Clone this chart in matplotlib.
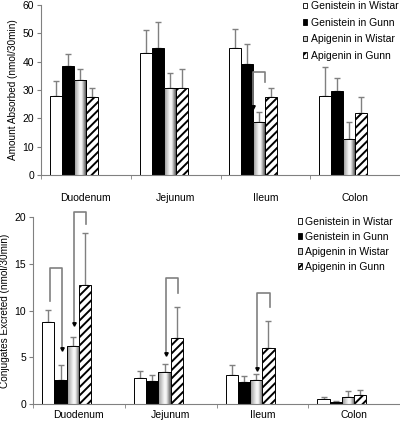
import matplotlib
matplotlib.use("Agg")
import matplotlib.pyplot as plt
import numpy as np
from matplotlib.patches import Patch

plt.rcParams['font.family'] = ['Liberation Sans', 'DejaVu Sans']
plt.rcParams['hatch.linewidth'] = 1.4

categories = ["Duodenum", "Jejunum", "Ileum", "Colon"]
series = ["Genistein in Wistar", "Genistein in Gunn", "Apigenin in Wistar", "Apigenin in Gunn"]

absorbed_gen_wistar = [27.9, 43.2, 44.9, 27.9]
absorbed_gen_gunn = [38.5, 44.9, 39.1, 29.5]
absorbed_api_wistar = [33.4, 30.6, 18.6, 12.6]
absorbed_api_gunn = [27.4, 30.6, 27.6, 21.8]
absorbed_err_gen_wistar = [5.3, 8.1, 6.7, 10.3]
absorbed_err_gen_gunn = [4.1, 9.0, 7.3, 4.6]
absorbed_err_api_wistar = [4.0, 5.4, 3.8, 6.0]
absorbed_err_api_gunn = [3.4, 6.7, 3.2, 5.8]

excreted_gen_wistar = [8.8, 2.78, 3.06, 0.52]
excreted_gen_gunn = [2.6, 2.42, 2.35, 0.25]
excreted_api_wistar = [6.16, 3.45, 2.6, 0.75]
excreted_api_gunn = [12.76, 7.05, 6.0, 1.0]
excreted_err_gen_wistar = [1.3, 0.72, 1.14, 0.22]
excreted_err_gen_gunn = [1.6, 0.64, 0.6, 0.1]
excreted_err_api_wistar = [1.04, 0.85, 0.64, 0.62]
excreted_err_api_gunn = [5.5, 3.35, 2.85, 0.45]

# brackets: (category index, left bar, right bar, top y, left end y, right end y, arrow on 'left'/'right')
absorbed_brackets = [(2, 2, 3, 36.5, 24.1, 32.9, 'left')]
excreted_brackets = [
    (0, 0, 1, 14.55, 11.0, 5.9, 'right'),
    (0, 2, 3, 20.5, 8.6, 19.3, 'left'),
    (1, 2, 3, 13.5, 5.3, 11.9, 'left'),
    (2, 2, 3, 11.9, 3.75, 10.4, 'left'),
]

BW = 0.1333
GRAY = '#808080'

grad = np.interp(np.linspace(0, 1, 60), [0, 0.15, 0.5, 0.65, 0.85, 1.0],
                 [0.55, 0.7, 0.97, 0.95, 0.6, 0.35])
grad_img = np.tile(grad, (2, 1))


def bar_x(i, j):
    return i - 0.4 + BW * (j + 0.5)


def draw(ax, vals, errs, ylim, step, ylabel, brackets, leg_bbox, leg_spacing, bracket_dx):
    x = np.arange(len(categories))
    styles = [dict(facecolor='white', edgecolor='black'),
              dict(facecolor='black', edgecolor='black'),
              dict(facecolor='#d0d0d0', edgecolor='black'),
              dict(facecolor='white', edgecolor='black', hatch='////')]
    handles = []
    for j, (v, e) in enumerate(zip(vals, errs)):
        xs = [bar_x(i, j) for i in x]
        bars = ax.bar(xs, v, width=BW, linewidth=0.7, zorder=2, **styles[j])
        if j == 2:
            for b in bars:
                x0, y0 = b.get_x(), b.get_y()
                im = ax.imshow(grad_img, cmap='gray', vmin=0, vmax=1, aspect='auto',
                               extent=[x0, x0 + b.get_width(), y0, y0 + b.get_height()],
                               zorder=2.1, interpolation='bilinear')
                im.set_clip_path(b)
                ax.bar(b.get_x() + b.get_width() / 2, b.get_height(), width=BW,
                       fill=False, edgecolor='black', linewidth=0.7, zorder=2.2)
        ax.errorbar(xs, v, yerr=[np.zeros(len(e)), e], fmt='none', ecolor=GRAY,
                    elinewidth=1.0, capsize=2.2, capthick=1.0, zorder=1.5)
        handles.append(Patch(**styles[j], linewidth=0.6, label=series[j]))
    for (i, jl, jr, top, yl, yr, arr) in brackets:
        xl = bar_x(i, jl) + bracket_dx
        xr = bar_x(i, jr) + bracket_dx
        ax.plot([xl, xl, xr, xr], [yl, top, top, yr], color=GRAY, lw=1.2,
                clip_on=False, zorder=3)
        ax_x = xl if arr == 'left' else xr
        ay = yl if arr == 'left' else yr
        ax.plot([ax_x], [ay], marker='v', color='black', markersize=2.5,
                clip_on=False, zorder=3)
    ax.set_xlim(-0.5, len(categories) - 0.5)
    ax.set_ylim(*ylim)
    ax.set_yticks(np.arange(ylim[0], ylim[1] + 0.01, step))
    ax.set_xticks(x)
    ax.set_xticklabels(categories, fontsize=7.5)
    ax.set_xticks(np.arange(-0.5, len(categories)), minor=True)
    ax.tick_params(axis='x', which='major', length=0)
    ax.tick_params(axis='x', which='minor', length=3, color=GRAY)
    ax.tick_params(axis='y', length=3, color=GRAY, labelsize=7.5, pad=2)
    for s in ['top', 'right']:
        ax.spines[s].set_visible(False)
    for s in ['left', 'bottom']:
        ax.spines[s].set_color(GRAY)
        ax.spines[s].set_linewidth(0.8)
    ax.set_ylabel(ylabel, fontsize=7.2, labelpad=3)
    ax.legend(handles=handles, loc='upper left', bbox_to_anchor=leg_bbox,
              bbox_transform=ax.figure.transFigure, frameon=False,
              fontsize=7.5, handlelength=0.45, handleheight=0.45,
              handletextpad=0.3, labelspacing=leg_spacing, borderpad=0,
              borderaxespad=0)
    return ax


fig = plt.figure(figsize=(4.0, 4.23), dpi=100)
ax1 = fig.add_axes([0.1025, 0.5863, 0.8975, 0.4017])
ax2 = fig.add_axes([0.0825, 0.0449, 0.9175, 0.4421])

draw(ax1,
     [absorbed_gen_wistar, absorbed_gen_gunn, absorbed_api_wistar, absorbed_api_gunn],
     [absorbed_err_gen_wistar, absorbed_err_gen_gunn, absorbed_err_api_wistar, absorbed_err_api_gunn],
     (0, 60), 10, "Amount Absorbed (nmol/30min)", absorbed_brackets,
     (0.757, 0.997), 0.62, -BW / 2)
ax1.tick_params(axis='x', which='major', pad=13)

draw(ax2,
     [excreted_gen_wistar, excreted_gen_gunn, excreted_api_wistar, excreted_api_gunn],
     [excreted_err_gen_wistar, excreted_err_gen_gunn, excreted_err_api_wistar, excreted_err_api_gunn],
     (0, 20), 5, "Conjugates Excreted (nmol/30min)", excreted_brackets,
     (0.744, 0.487), 0.48, BW * 0.1)
ax2.tick_params(axis='x', which='major', pad=4)

fig.savefig("out.png", dpi=100)
